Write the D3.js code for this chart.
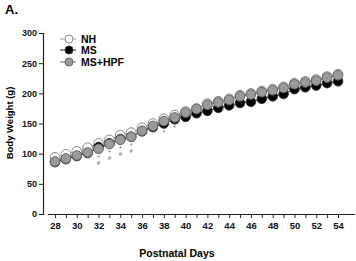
<!DOCTYPE html>
<html><head><meta charset="utf-8">
<script src="https://cdn.jsdelivr.net/npm/d3@7"></script>
<style>body{margin:0;background:#fff}svg{display:block;font-family:Arial,"Liberation Sans",sans-serif}</style>
</head><body><svg id="c" width="356" height="261"></svg>
<script>
const days = d3.range(28, 55);
const nh  = [94,99,104,110,117,123,131,135,143,150,158,164,170,175,183,187,191,197,200,204,207,211,217,220,223,228,232];
const ms  = [86,91,96,101,111,117,124,128,137,144,150,157,161,167,171,176,180,184,186,191,195,199,207,210,213,217,220];
const hpf = [87,92,97,102,108,116,123,128,138,146,154,160,168,174,181,185,189,195,198,202,205,209,215,218,221,226,230];
const starDays = [32,33,34,35,38,39];
const hashDays = [32,33,34,35];
const yTicks = [0,50,100,150,200,250,300];
const xLabels = d3.range(28, 55, 2);
const seriesNames = ["NH","MS","MS+HPF"];

const svg = d3.select("#c");
const x = d3.scaleLinear().domain([28,54]).range([55,338]);
const y = d3.scaleLinear().domain([0,300]).range([214,33]);

// Title
svg.append("text").attr("x",5).attr("y",14).attr("font-size",13).attr("font-weight","bold").text("A.");

// Y axis
const ya = svg.append("g").attr("transform","translate(43,0)")
  .call(d3.axisLeft(y).tickValues(yTicks).tickSize(4).tickPadding(2));
ya.select(".domain").attr("stroke","#222").attr("stroke-width",1.2);
ya.selectAll(".tick line").attr("stroke","#222");
ya.selectAll("text").attr("font-size",9).attr("font-weight","bold").attr("font-family","Arial,'Liberation Sans',sans-serif").attr("fill","#111");

// X axis
const xa = svg.append("g").attr("transform","translate(0,214)")
  .call(d3.axisBottom(x).tickValues(days).tickSize(4).tickPadding(4).tickFormat(d => d % 2 === 0 ? d : ""));
xa.select(".domain").attr("d","M48,0.5H355").attr("stroke","#222").attr("stroke-width",1.2);
xa.selectAll(".tick line").attr("stroke","#222");
xa.selectAll("text").attr("font-size",9.5).attr("font-weight","bold").attr("font-family","Arial,'Liberation Sans',sans-serif").attr("fill","#111");

// Axis titles
svg.append("text").attr("transform","translate(13,123) rotate(-90)").attr("text-anchor","middle")
  .attr("font-size",9.5).attr("font-weight","bold").text("Body Weight (g)");
svg.append("text").attr("x",177).attr("y",257).attr("text-anchor","middle")
  .attr("font-size",10.5).attr("font-weight","bold").text("Postnatal Days");

const styles = [
  {data:nh, fill:"#fff", stroke:"#888", line:"#999"},
  {data:ms, fill:"#000", stroke:"#333", line:"#222"},
  {data:hpf, fill:"#9a9a9a", stroke:"#666", line:"#666"}
];
const line = d3.line().x((d,i)=>x(days[i])).y(d=>y(d));
styles.forEach(s=>{
  svg.append("path").attr("d",line(s.data)).attr("fill","none").attr("stroke",s.line).attr("stroke-width",1);
});
styles.forEach(s=>{
  svg.append("g").selectAll("circle").data(s.data).join("circle")
    .attr("cx",(d,i)=>x(days[i])).attr("cy",d=>y(d)).attr("r",4.8)
    .attr("fill",s.fill).attr("stroke",s.stroke).attr("stroke-width",1);
});

// significance marks
starDays.forEach(d=>{
  const v = Math.min(ms[d-28], hpf[d-28]);
  svg.append("text").attr("x",x(d)).attr("y",y(v)+11).attr("text-anchor","middle")
    .attr("font-size",7).attr("fill","#777").text("*");
});
hashDays.forEach(d=>{
  const v = Math.min(ms[d-28], hpf[d-28]);
  svg.append("text").attr("x",x(d)).attr("y",y(v)+16).attr("text-anchor","middle")
    .attr("font-size",6).attr("font-weight","bold").attr("fill","#888").text("#");
});

// Legend
const ly = [39,50,62];
styles.forEach((s,i)=>{
  svg.append("line").attr("x1",60).attr("x2",76).attr("y1",ly[i]).attr("y2",ly[i]).attr("stroke",s.line).attr("stroke-width",1);
  svg.append("circle").attr("cx",69).attr("cy",ly[i]).attr("r",4).attr("fill",s.fill).attr("stroke",s.stroke);
  svg.append("text").attr("x",81).attr("y",ly[i]+4).attr("font-size",10.5).attr("font-weight","bold").text(seriesNames[i]);
});
</script></body></html>
